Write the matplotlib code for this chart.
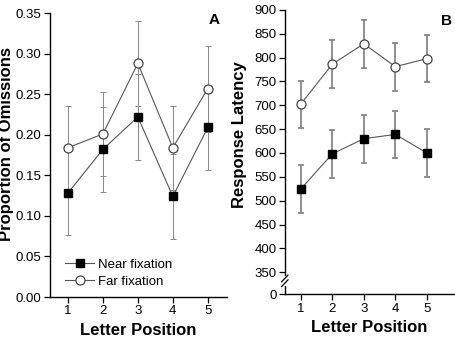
import matplotlib
matplotlib.use("Agg")
import matplotlib.pyplot as plt

# data
positions = [1, 2, 3, 4, 5]

omit_near = [0.128, 0.182, 0.222, 0.124, 0.209]
omit_near_err = [0.052, 0.052, 0.053, 0.052, 0.052]
omit_far = [0.184, 0.201, 0.288, 0.184, 0.257]
omit_far_err = [0.052, 0.052, 0.052, 0.052, 0.053]

lat_near = [524, 598, 630, 639, 600]
lat_near_err = [50, 50, 50, 50, 50]
lat_far = [702, 786, 829, 781, 798]
lat_far_err = [50, 50, 50, 50, 50]

lat_ticks = [350, 400, 450, 500, 550, 600, 650, 700, 750, 800, 850, 900]
lat_zero = 304  # where the "0" tick sits below the axis break

plt.rcParams["font.family"] = ["Liberation Sans", "DejaVu Sans"]

fig = plt.figure(figsize=(4.55, 3.54), dpi=100)
axA = fig.add_axes([0.110, 0.161, 0.389, 0.802])
axB = fig.add_axes([0.626, 0.169, 0.372, 0.803])

line_c = "#555555"
err_c = "#888888"


def draw(ax, near, near_err, far, far_err, elw):
    ax.errorbar(positions, near, yerr=near_err, fmt="none", ecolor=err_c,
                elinewidth=elw, capsize=2.5, capthick=elw, zorder=1)
    ax.errorbar(positions, far, yerr=far_err, fmt="none", ecolor=err_c,
                elinewidth=elw, capsize=2.5, capthick=elw, zorder=1)
    ax.plot(positions, near, color=line_c, lw=0.8, marker="s", ms=6,
            mfc="black", mec="black", label="Near fixation", zorder=3)
    ax.plot(positions, far, color=line_c, lw=0.8, marker="o", ms=6.5,
            mfc="white", mec="#444444", mew=0.9, label="Far fixation", zorder=3)
    for s in ["top", "right"]:
        ax.spines[s].set_visible(False)
    for s in ["left", "bottom"]:
        ax.spines[s].set_linewidth(1.0)
    ax.set_xticks(positions)
    ax.tick_params(direction="out", length=4, width=0.9, labelsize=9.5, pad=2)
    ax.set_xlabel("Letter Position", fontsize=12, fontweight="bold", labelpad=4)


# panel A
draw(axA, omit_near, omit_near_err, omit_far, omit_far_err, 0.7)
axA.set_xlim(0.49, 5.55)
axA.set_ylim(0, 0.35)
axA.set_yticks([0, 0.05, 0.10, 0.15, 0.20, 0.25, 0.30, 0.35])
axA.set_yticklabels(["0.00", "0.05", "0.10", "0.15", "0.20", "0.25", "0.30", "0.35"])
axA.set_ylabel("Proportion of Omissions", fontsize=12, fontweight="bold", labelpad=2)
axA.yaxis.set_label_coords(-0.205, 0.54)
axA.text(0.925, 1.0, "A", transform=axA.transAxes, fontsize=11, fontweight="bold",
         ha="center", va="top")
axA.legend(loc="lower left", bbox_to_anchor=(0.02, -0.01), frameon=False,
           fontsize=9.5, handlelength=2.2, handletextpad=0.3, labelspacing=0.35)

# panel B
draw(axB, lat_near, lat_near_err, lat_far, lat_far_err, 1.3)
axB.set_xlim(0.5, 5.86)
axB.set_ylim(lat_zero, 900)
axB.set_yticks([lat_zero] + lat_ticks)
axB.set_yticklabels(["0"] + [str(v) for v in lat_ticks])
axB.set_ylabel("Response Latency", fontsize=12, fontweight="bold", labelpad=2)
axB.yaxis.set_label_coords(-0.225, 0.56)
axB.text(0.955, 0.985, "B", transform=axB.transAxes, fontsize=11, fontweight="bold",
         ha="center", va="top")

# axis break marks on the left spine
axB.plot([0.5, 0.5], [326, 338], color="white", lw=3, clip_on=False, zorder=4)
for yb in [327, 337]:
    axB.plot([0.5 - 0.1, 0.5 + 0.1], [yb - 7, yb + 7], color="black", lw=0.9,
             clip_on=False, zorder=5)

fig.savefig("out.png", dpi=100)
